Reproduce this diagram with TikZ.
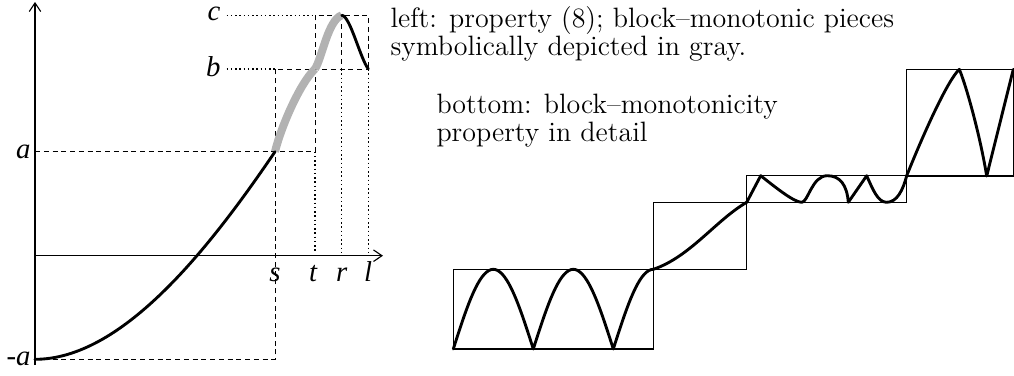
\documentclass[tikz,border=0pt]{standalone}
\usepackage{fontspec}
\newfontfamily\labfont{Liberation Serif}
\usetikzlibrary{arrows.meta}
\begin{document}
\begin{tikzpicture}[x=0.4pt,y=-0.4pt,
  axisline/.style={line width=0.45pt,-{Straight Barb[length=3.4pt,width=4.6pt,line width=0.45pt]}},
  dashline/.style={line width=0.4pt,dash pattern=on 2pt off 1.5pt},
  dotline/.style={line width=0.45pt,dash pattern=on 0.6pt off 1.1pt},
  curve/.style={line width=1.15pt,line cap=round,line join=round},
  graycurve/.style={line width=3.2pt,black!30},
  blockbox/.style={line width=0.45pt},
  lab/.style={font=\labfont\itshape\fontsize{11.5}{13}\selectfont,inner sep=0pt},
  txt/.style={font=\fontsize{11.2}{13}\selectfont,inner sep=0pt,anchor=base west}]
\useasboundingbox (0,0) rectangle (1014,375);
% key coordinates
\coordinate (O) at (35,255.7);
\coordinate (ma) at (35,359.3);
\coordinate (sA) at (275,151.7);
\coordinate (tB) at (315,69);
\coordinate (rC) at (341.7,15.3);
\coordinate (lB) at (368.3,69);
% dashed guides
\draw[dashline] (ma) -- (275,359.3) -- (275,69) -- (lB);
\draw[dashline] (35,151.7) -- (315,151.7) -- (315,15.3) -- (368.3,15.3) -- (lB);
\draw[dashline] (rC) -- (341.7,69);
% dotted guides
\draw[dotline] (226.7,15.3) -- (315,15.3);
\draw[dotline] (226.7,69) -- (275,69);
\draw[dotline] (315,151.7) -- (315,253);
\draw[dotline] (341.7,69) -- (341.7,253);
\draw[dotline] (368.3,69) -- (368.3,253);
% axes
\draw[axisline] (35,365) -- (35,2);
\draw[axisline] (O) -- (383,255.7);
% curves
\draw[graycurve] (sA) .. controls (281,127) and (300,83) .. (tB);
\draw[graycurve] (tB) .. controls (322,58) and (328,20) .. (rC);
\draw[curve] (ma) .. controls (120,359.3) and (205,255) .. (sA);
\draw[curve] (rC) .. controls (350,15.3) and (360,58) .. (lB);
% labels
\node[lab,anchor=base east] (lc) at (221,20.7) {c};
\node[lab,anchor=base east] (lb) at (221,76) {b};
\node[lab,anchor=base east] (la) at (31,158.3) {a};
\node[lab,anchor=base east] (lma) at (31,365) {-a};
\node[lab,anchor=base] (ls) at (275,281.7) {s};
\node[lab,anchor=base] (lt) at (313,281.7) {t};
\node[lab,anchor=base] (lr) at (341.7,281.7) {r};
\node[lab,anchor=base] (ll) at (368,281.7) {l};
% texts
\node[txt] (t1) at (390,27) {left: property (8); block--monotonic pieces};
\node[txt] (t2) at (390,55) {symbolically depicted in gray.};
\node[txt] (t3) at (436,113) {bottom: block--monotonicity};
\node[txt] (t4) at (436,141) {property in detail};
% blocks
\draw[blockbox] (453.3,269.3) rectangle (653.3,349);
\draw[blockbox] (653.3,202.3) rectangle (746.7,269.3);
\draw[blockbox] (746.7,175.7) rectangle (906.7,202.3);
\draw[blockbox] (906.7,69.3) rectangle (1013.3,176);
% block curve
\draw[curve] plot[variable=\t,domain=0:450,samples=91] ({453.3+\t*0.44444},{349-79.7*abs(sin(\t))});
\draw[curve] (653.3,269.3) .. controls (690,257) and (716,220) .. (746.7,202.3);
\draw[curve] (746.7,202.3) -- (760.7,175.7) .. controls (775,187) and (794,202.3) .. (801.7,202.3)
  .. controls (808,202.3) and (812,175.7) .. (827.3,175.7)
  .. controls (840,175.7) and (847,185) .. (848.3,202.3)
  -- (866.7,175.7) .. controls (873,190) and (878,202.3) .. (886.7,202.3)
  .. controls (897,202.3) and (903,190) .. (906.7,175.7)
  .. controls (925,130) and (948,80) .. (959.3,69.3)
  .. controls (966,85) and (980,135) .. (986.7,176) -- (1013.3,69.3);
\end{tikzpicture}
\end{document}
